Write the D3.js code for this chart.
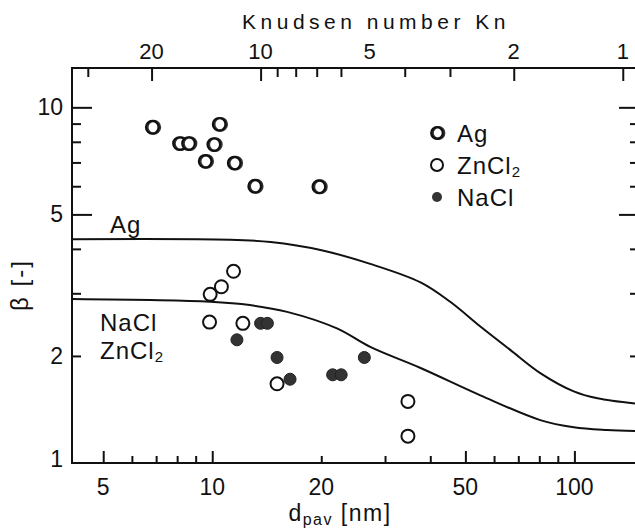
<!DOCTYPE html>
<html><head><meta charset="utf-8">
<script src="https://cdn.jsdelivr.net/npm/d3@7"></script>
<style>body{margin:0;background:#fff}svg{display:block}text{font-family:"Liberation Sans",Arial,sans-serif;fill:#111}</style>
</head><body><svg id="c" width="635" height="528"></svg>
<script>
// ---- tick values / labels ----
const xMajor = [5, 10, 50, 100];
const xMinor = [6, 7, 8, 9, 20, 30, 40, 60, 70, 80, 90];
const xLabels = [5, 10, 20, 50, 100];
const yMajor = [5, 10];
const yMinor = [2, 3, 4, 6, 7, 8, 9];
const yLabels = [1, 2, 5, 10];
const knMajor = [20, 10, 2, 1];
const knMinor = [30, 9, 8, 7, 6, 4, 3];
const knLabels = [20, 10, 5, 2, 1];
const knConst = 136; // Kn = knConst / dp (nm)

// ---- data: Ag ----
const agD = [6.83, 10.45, 8.12, 8.6, 10.1, 9.56, 11.5, 13.1, 19.7];
const agB = [8.79, 8.96, 7.91, 7.91, 7.86, 7.05, 6.97, 6.0, 5.98];
// ---- data: ZnCl2 ----
const znD = [11.45, 10.6, 9.87, 9.83, 12.15, 15.1, 34.7, 34.7];
const znB = [3.46, 3.13, 2.98, 2.49, 2.47, 1.67, 1.49, 1.19];
// ---- data: NaCl ----
const naD = [13.6, 14.2, 11.7, 15.1, 16.4, 21.5, 22.7, 26.3];
const naB = [2.47, 2.47, 2.22, 1.98, 1.72, 1.77, 1.77, 1.98];
// ---- theory curves ----
const curveAgD = [4.1, 11.2, 14.5, 19.9, 27.3, 37.6, 45.4, 55.0, 66.5, 80.5, 99.6, 115.8, 147];
const curveAgB = [4.26, 4.245, 4.18, 3.97, 3.63, 3.22, 2.84, 2.42, 2.08, 1.79, 1.59, 1.52, 1.47];
const curveNaD = [4.1, 9.87, 12.7, 16.1, 22.1, 27.3, 37.6, 55.0, 80.5, 99.6, 123, 147];
const curveNaB = [2.89, 2.84, 2.78, 2.66, 2.39, 2.12, 1.85, 1.55, 1.32, 1.26, 1.238, 1.23];

const L = 72, R = 635, T = 68, B = 463;
const svg = d3.select('#c');
const x = d3.scaleLog().domain([4.1, 147]).range([L, R]);
const y = d3.scaleLog().domain([1, 12.9]).range([B, T]);
const xKn = d3.scaleLog().domain([knConst / 4.1, knConst / 147]).range([L, R]);

// frame
svg.append('rect').attr('x', L).attr('y', T).attr('width', R + 1 - L).attr('height', B - T)
  .attr('fill', 'none').attr('stroke', '#111').attr('stroke-width', 2);

function ax(gen, tr, vals, size) {
  const g = svg.append('g').attr('transform', tr)
    .call(gen.tickValues(vals).tickSize(size).tickFormat(''));
  g.select('.domain').remove();
  g.selectAll('line').attr('stroke', '#111').attr('stroke-width', 2);
}
ax(d3.axisBottom(x), `translate(0,${B})`, xMajor, -12);
ax(d3.axisBottom(x), `translate(0,${B})`, xMinor, -7);
ax(d3.axisTop(xKn), `translate(0,${T})`, knMajor, -13);
ax(d3.axisTop(xKn), `translate(0,${T})`, knMinor, -9);
ax(d3.axisLeft(y), `translate(${L},0)`, yMajor, -20);
ax(d3.axisLeft(y), `translate(${L},0)`, yMinor, -9);
ax(d3.axisRight(y), `translate(${R + 1},0)`, yMajor, -17);
ax(d3.axisRight(y), `translate(${R + 1},0)`, yMinor, -6);

// tick labels
const fs = 23;
svg.append('g').selectAll('text').data(xLabels).join('text')
  .attr('x', d => x(d)).attr('y', 495).attr('text-anchor', 'middle')
  .attr('font-size', fs).text(d => d);
svg.append('g').selectAll('text').data(knLabels).join('text')
  .attr('x', d => xKn(d)).attr('y', 59).attr('text-anchor', 'middle')
  .attr('font-size', 22).text(d => d);
svg.append('g').selectAll('text').data(yLabels).join('text')
  .attr('x', 63).attr('y', d => d === 1 ? y(d) + 4 : y(d) + 8).attr('text-anchor', 'end')
  .attr('font-size', fs).text(d => d);

// axis titles
svg.append('text').attr('x', 376).attr('y', 29).attr('text-anchor', 'middle')
  .attr('font-size', 21).attr('letter-spacing', 4.5).text('Knudsen number  Kn');
const xt = svg.append('text').attr('x', 340).attr('y', 521).attr('text-anchor', 'middle').attr('font-size', 23).attr('letter-spacing', 1.5);
xt.append('tspan').text('d');
xt.append('tspan').attr('font-size', 16).attr('dy', 4).text('pav');
xt.append('tspan').attr('dy', -4).text(' [nm]');
svg.append('text').attr('transform', 'translate(28,285) rotate(-90)').attr('text-anchor', 'middle')
  .attr('font-size', 24).attr('letter-spacing', 2).text('β [-]');

// curves
const line = d3.line().x(d => x(d[0])).y(d => y(d[1])).curve(d3.curveCatmullRom.alpha(0.5));
svg.append('path').datum(curveAgD.map((d, i) => [d, curveAgB[i]])).attr('d', line)
  .attr('fill', 'none').attr('stroke', '#111').attr('stroke-width', 2);
svg.append('path').datum(curveNaD.map((d, i) => [d, curveNaB[i]])).attr('d', line)
  .attr('fill', 'none').attr('stroke', '#111').attr('stroke-width', 2);

// curve labels
svg.append('text').attr('x', 110).attr('y', 233).attr('font-size', 24).attr('letter-spacing', 1).text('Ag');
svg.append('text').attr('x', 100).attr('y', 331).attr('font-size', 24).attr('letter-spacing', 1).text('NaCl');
const zl = svg.append('text').attr('x', 100).attr('y', 359).attr('font-size', 24).attr('letter-spacing', 1);
zl.append('tspan').text('ZnCl');
zl.append('tspan').attr('font-size', 15).attr('dy', 3).text('2');

// markers
function agMark(g, cx, cy, r) {
  g.append('circle').attr('cx', cx + 1.5).attr('cy', cy).attr('r', r)
    .attr('fill', '#fff').attr('stroke', '#333').attr('stroke-width', 2.2);
  g.append('circle').attr('cx', cx).attr('cy', cy).attr('r', r)
    .attr('fill', 'none').attr('stroke', '#111').attr('stroke-width', 2.2);
}
const pts = svg.append('g');
agD.forEach((d, i) => agMark(pts, x(d), y(agB[i]), 6.3));
pts.selectAll('.zn').data(znD).join('circle').attr('class', 'zn')
  .attr('cx', d => x(d)).attr('cy', (d, i) => y(znB[i])).attr('r', 6.5)
  .attr('fill', '#fff').attr('stroke', '#111').attr('stroke-width', 2);
pts.selectAll('.na').data(naD).join('circle').attr('class', 'na')
  .attr('cx', d => x(d)).attr('cy', (d, i) => y(naB[i])).attr('r', 6)
  .attr('fill', '#333').attr('stroke', '#222').attr('stroke-width', 1);

// legend
const lg = svg.append('g');
agMark(lg, 437, 133, 5.8);
lg.append('circle').attr('cx', 437).attr('cy', 165).attr('r', 6).attr('fill', '#fff').attr('stroke', '#111').attr('stroke-width', 2);
lg.append('circle').attr('cx', 437).attr('cy', 197).attr('r', 5).attr('fill', '#333');
lg.append('text').attr('x', 457).attr('y', 142).attr('font-size', 24).attr('letter-spacing', 1).text('Ag');
const lz = lg.append('text').attr('x', 457).attr('y', 174).attr('font-size', 24).attr('letter-spacing', 1);
lz.append('tspan').text('ZnCl');
lz.append('tspan').attr('font-size', 15).attr('dy', 3).text('2');
lg.append('text').attr('x', 457).attr('y', 206).attr('font-size', 24).attr('letter-spacing', 1).text('NaCl');
</script></body></html>
